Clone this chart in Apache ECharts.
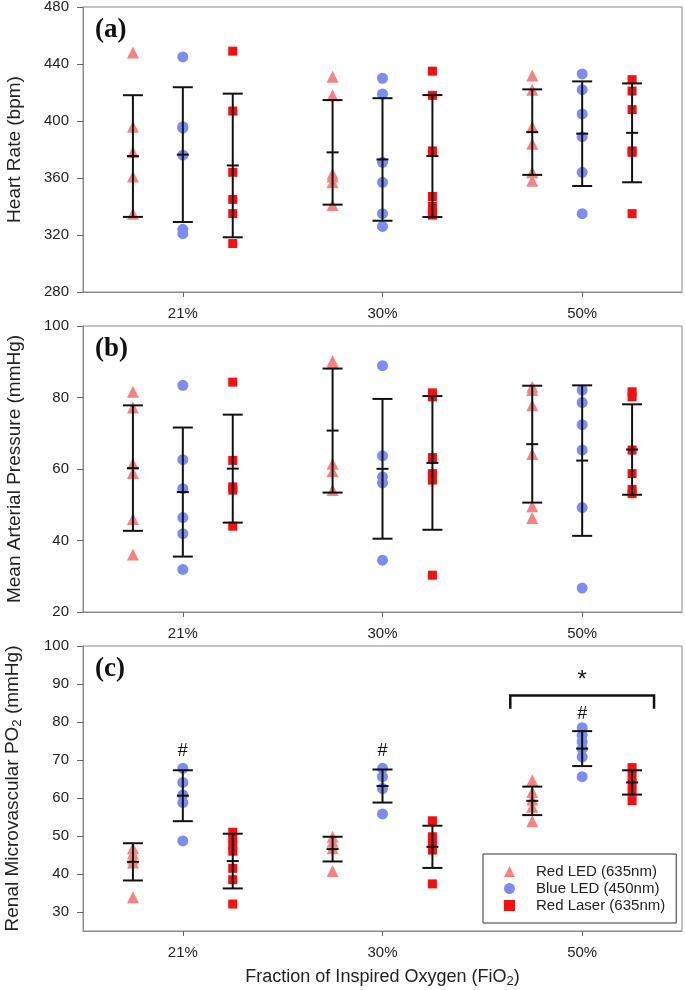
<!DOCTYPE html>
<html>
<head>
<meta charset="utf-8">
<script src="https://cdn.jsdelivr.net/npm/echarts@6/dist/echarts.min.js"></script>
<style>html,body{margin:0;padding:0;background:#fff}#c{width:685px;height:990px}</style>
</head>
<body>
<div id="c"></div>
<script>
// ---------- DATA ----------
const categories = ['21%', '30%', '50%'];
const seriesNames = ['Red LED (635nm)', 'Blue LED (450nm)', 'Red Laser (635nm)'];

// (a) Heart Rate (bpm)
const hrRedLED   = [[448, 396, 378, 361, 335], [431, 418, 363, 361, 357, 341], [432, 422, 396, 384, 364, 358]];
const hrBlueLED  = [[445, 396, 395, 376, 324, 321], [430, 419, 371, 357, 335, 326], [433, 422, 405, 389, 364, 335]];
const hrRedLaser = [[449, 407, 364, 345, 335, 314], [435, 418, 379, 347, 340, 336, 334], [429, 421, 408, 379, 378, 335]];
const hrRedLEDMean = [375.4, 378.0, 392.2];   const hrRedLEDSD = [42.7, 36.7, 30.0];
const hrBlueLEDMean = [376.4, 373.0, 391.1];  const hrBlueLEDSD = [47.3, 43.0, 36.7];
const hrRedLaserMean = [368.8, 375.4, 391.7]; const hrRedLaserSD = [50.4, 42.8, 34.7];

// (b) Mean Arterial Pressure (mmHg)
const mapRedLED   = [[81.6, 77.2, 61.5, 58.9, 46.0, 36.1], [90.2, 89.5, 61.5, 59.4, 54.1], [83.0, 82.1, 77.8, 64.2, 49.6, 46.3]];
const mapBlueLED  = [[83.4, 62.6, 54.5, 46.4, 41.9, 31.9], [88.9, 63.7, 57.8, 56.1, 34.5], [82.1, 78.6, 72.4, 65.3, 49.2, 26.7]];
const mapRedLaser = [[84.3, 62.4, 55.0, 54.1, 44.0], [81.3, 80.2, 63.2, 58.7, 56.9, 30.3], [81.6, 80.2, 65.3, 58.7, 54.3, 53.1]];
const mapRedLEDMean = [60.25, 70.75, 66.95];   const mapRedLEDSD = [17.55, 17.35, 16.35];
const mapBlueLEDMean = [53.55, 60.05, 62.35];  const mapBlueLEDSD = [18.05, 19.55, 21.05];
const mapRedLaserMean = [60.1, 61.7, 65.45];   const mapRedLaserSD = [15.1, 18.7, 12.65];

// (c) Renal Microvascular PO2 (mmHg)
const po2RedLED   = [[46.8, 45.4, 44.1, 43.0, 33.9], [49.8, 48.5, 46.8, 40.8], [64.7, 61.6, 59.6, 57.7, 53.9]];
const po2BlueLED  = [[67.8, 64.1, 60.8, 58.8, 48.7], [67.8, 65.6, 62.5, 55.8], [78.5, 76.5, 74.8, 73.0, 70.8, 65.6]];
const po2RedLaser = [[51.0, 49.5, 47.5, 46.0, 41.5, 38.5, 32.1], [54.0, 49.8, 48.1, 46.3, 37.4], [68.0, 66.0, 63.8, 61.6, 59.3]];
const po2RedLEDMean = [43.2, 46.55, 59.25];   const po2RedLEDSD = [4.9, 3.25, 3.75];
const po2BlueLEDMean = [60.6, 63.15, 73.0];   const po2BlueLEDSD = [6.7, 4.35, 4.6];
const po2RedLaserMean = [43.4, 47.15, 64.1];  const po2RedLaserSD = [7.2, 5.55, 3.2];

// significance annotations in panel (c): [category index, value]
const hashMarks = [[0, 72.3], [1, 72.3], [2, 82.2]];
const starMarks = [[2, 91.0]];
const bracketCat = 2, bracketTop = 87.0, bracketLeg = 83.5;

// axis tick labels
const hrTicks = [280, 320, 360, 400, 440, 480];
const mapTicks = [20, 40, 60, 80, 100];
const po2Ticks = [30, 40, 50, 60, 70, 80, 90, 100];

// ---------- STYLE ----------
const FONT = 'Liberation Sans, Arial, sans-serif';
const colors = ['#f88282', '#7b8cf2', '#f50f0f'];
const symbols = ['triangle', 'circle', 'rect'];
const symSizes = [12, 11, 9];
const offsets = [-0.25, 0, 0.25];
const gridTops = [7, 326, 646];
const gridHeights = [285, 286, 285];

const panels = [
  { pts: [hrRedLED, hrBlueLED, hrRedLaser], mean: [hrRedLEDMean, hrBlueLEDMean, hrRedLaserMean], sd: [hrRedLEDSD, hrBlueLEDSD, hrRedLaserSD],
    min: 280, max: 480, ticks: hrTicks, name: 'Heart Rate (bpm)', label: '(a)' },
  { pts: [mapRedLED, mapBlueLED, mapRedLaser], mean: [mapRedLEDMean, mapBlueLEDMean, mapRedLaserMean], sd: [mapRedLEDSD, mapBlueLEDSD, mapRedLaserSD],
    min: 20, max: 100, ticks: mapTicks, name: 'Mean Arterial Pressure (mmHg)', label: '(b)' },
  { pts: [po2RedLED, po2BlueLED, po2RedLaser], mean: [po2RedLEDMean, po2BlueLEDMean, po2RedLaserMean], sd: [po2RedLEDSD, po2BlueLEDSD, po2RedLaserSD],
    min: 25, max: 100, ticks: po2Ticks, name: '{t|Renal Microvascular PO}{s|2}{t| (mmHg)}', label: '(c)' }
];

function renderErr(params, api) {
  const x = api.value(0), m = api.value(1), s = api.value(2);
  const t = api.coord([x, m + s]), b = api.coord([x, m - s]), c = api.coord([x, m]);
  const st = { stroke: '#111', lineWidth: 2 };
  return { type: 'group', children: [
    { type: 'line', shape: { x1: t[0], y1: t[1], x2: b[0], y2: b[1] }, style: st },
    { type: 'line', shape: { x1: t[0] - 10, y1: t[1], x2: t[0] + 10, y2: t[1] }, style: st },
    { type: 'line', shape: { x1: b[0] - 10, y1: b[1], x2: b[0] + 10, y2: b[1] }, style: st },
    { type: 'line', shape: { x1: c[0] - 6, y1: c[1], x2: c[0] + 6, y2: c[1] }, style: st }
  ]};
}

const grid = [], xAxis = [], yAxis = [], series = [], graphic = [];
panels.forEach((p, k) => {
  grid.push({ left: 83, width: 599, top: gridTops[k], height: gridHeights[k], show: true,
    borderColor: '#8a8a8a', borderWidth: 1, backgroundColor: 'transparent',
    containLabel: false, outerBoundsMode: 'none' });
  const isLast = k === 2;
  xAxis.push({
    type: 'category', gridIndex: k, data: categories, boundaryGap: true,
    axisLine: { show: true, onZero: false, lineStyle: { color: '#8a8a8a' } },
    axisTick: { show: true, alignWithLabel: true, length: 5, lineStyle: { color: '#666' } },
    axisLabel: { fontFamily: FONT, fontSize: 15, color: '#222', margin: 14 },
    splitLine: { show: false },
    name: isLast ? '{t|Fraction of Inspired Oxygen (FiO}{s|2}{t|)}' : '',
    nameLocation: 'middle', nameGap: 35,
    nameTextStyle: { rich: {
      t: { fontFamily: FONT, fontSize: 18, color: '#222', lineHeight: 22 },
      s: { fontFamily: FONT, fontSize: 13, color: '#222', lineHeight: 12, verticalAlign: 'bottom' } } }
  });
  xAxis.push({ type: 'value', gridIndex: k, min: -0.5, max: 2.5, show: false });
  yAxis.push({
    type: 'value', gridIndex: k, min: p.min, max: p.max,
    axisLine: { show: true, onZero: false, lineStyle: { color: '#8a8a8a' } },
    axisTick: { show: true, length: 6, lineStyle: { color: '#666' }, customValues: p.ticks },
    axisLabel: { fontFamily: FONT, fontSize: 15, color: '#222', margin: 14, customValues: p.ticks },
    splitLine: { show: false },
    name: p.name, nameLocation: 'middle', nameRotate: 90, nameGap: 59,
    nameTextStyle: { fontFamily: FONT, fontSize: 19, color: '#222', rich: {
      t: { fontFamily: FONT, fontSize: 19, color: '#222', lineHeight: 22 },
      s: { fontFamily: FONT, fontSize: 13, color: '#222', lineHeight: 12, verticalAlign: 'bottom' } } }
  });
  for (let s = 0; s < 3; s++) {
    const data = [];
    p.pts[s].forEach((vals, i) => vals.forEach(v => data.push([i + offsets[s], v])));
    series.push({
      type: 'scatter', name: seriesNames[s], xAxisIndex: 2 * k + 1, yAxisIndex: k,
      symbol: symbols[s], symbolSize: symSizes[s], itemStyle: { color: colors[s], opacity: 1 },
      data: data, z: 2, silent: true
    });
  }
  for (let s = 0; s < 3; s++) {
    const data = categories.map((c, i) => [i + offsets[s], p.mean[s][i], p.sd[s][i]]);
    series.push({
      type: 'custom', name: 'err' + k + s, xAxisIndex: 2 * k + 1, yAxisIndex: k,
      renderItem: renderErr, data: data, z: 5, silent: true, encode: { x: 0, y: 1 }
    });
  }
  graphic.push({ type: 'text', left: 95, top: gridTops[k] + 10, style: { text: p.label, font: 'bold 27px "Liberation Serif", "Times New Roman", serif', fill: '#111' } });
});

// Annotations in panel (c)
series.push({
  type: 'custom', name: 'hash', xAxisIndex: 5, yAxisIndex: 2, silent: true, z: 6,
  data: hashMarks, encode: { x: 0, y: 1 },
  renderItem: (params, api) => {
    const c = api.coord([api.value(0), api.value(1)]);
    return { type: 'text', x: c[0], y: c[1], style: { text: '#', font: '18px ' + FONT, fill: '#111', align: 'center', verticalAlign: 'middle' } };
  }
});
series.push({
  type: 'custom', name: 'star', xAxisIndex: 5, yAxisIndex: 2, silent: true, z: 6,
  data: starMarks, encode: { x: 0, y: 1 },
  renderItem: (params, api) => {
    const c = api.coord([api.value(0), api.value(1)]);
    return { type: 'text', x: c[0], y: c[1], style: { text: '*', font: '24px ' + FONT, fill: '#111', align: 'center', verticalAlign: 'middle' } };
  }
});
series.push({
  type: 'custom', name: 'bracket', xAxisIndex: 5, yAxisIndex: 2, silent: true, z: 6,
  data: [[bracketCat - 0.36, bracketCat + 0.36, bracketTop, bracketLeg]], encode: { x: [0, 1], y: [2, 3] },
  renderItem: (params, api) => {
    const a = api.coord([api.value(0), api.value(3)]);
    const b = api.coord([api.value(0), api.value(2)]);
    const c = api.coord([api.value(1), api.value(2)]);
    const d = api.coord([api.value(1), api.value(3)]);
    return { type: 'polyline', shape: { points: [a, b, c, d] }, style: { stroke: '#111', lineWidth: 2.5, fill: null } };
  }
});

const chart = echarts.init(document.getElementById('c'), null, { renderer: 'canvas' });
chart.setOption({
  animation: false,
  backgroundColor: '#fff',
  grid, xAxis, yAxis, series, graphic,
  legend: {
    orient: 'vertical', left: 483, top: 854,
    data: [
      { name: seriesNames[0], icon: 'triangle' },
      { name: seriesNames[1], icon: 'circle' },
      { name: seriesNames[2], icon: 'rect' }
    ],
    itemWidth: 11, itemHeight: 11, itemGap: 2,
    padding: [10, 11, 10, 21],
    borderColor: '#333', borderWidth: 1, backgroundColor: '#fff',
    selectedMode: false,
    textStyle: { fontFamily: FONT, fontSize: 15, color: '#222', padding: [0, 0, 0, 16] }
  }
});
</script>
</body>
</html>
